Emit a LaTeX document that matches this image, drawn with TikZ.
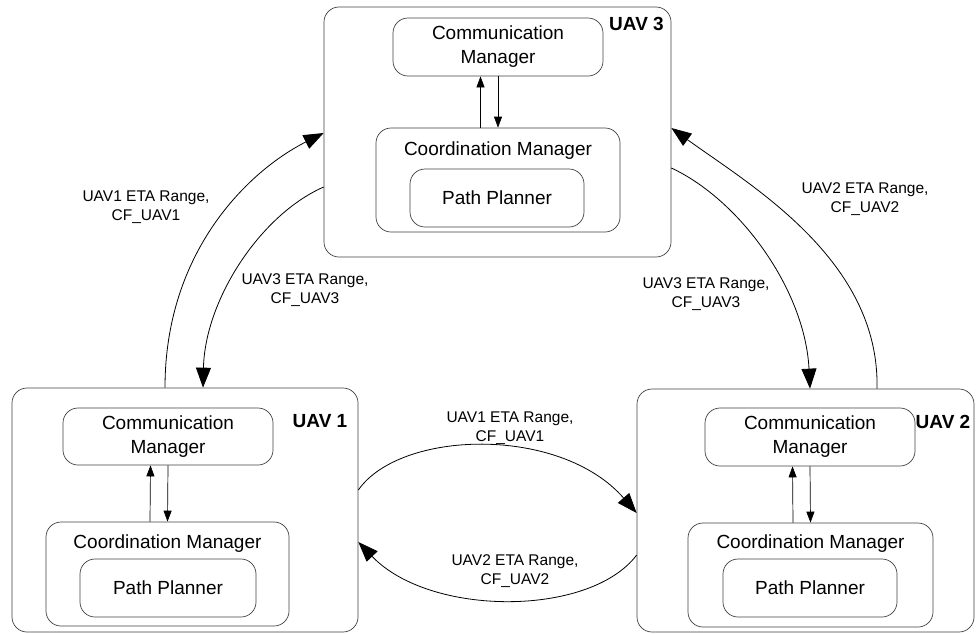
\documentclass[tikz,border=0pt]{standalone}
\usepackage{fontspec}
\setmainfont{Liberation Sans}
\usetikzlibrary{arrows.meta,calc}
\tikzset{
  outerbox/.style={draw=black!75, line width=0.7pt, rounded corners=15pt, inner sep=0pt},
  innerbox/.style={draw=black!75, line width=0.7pt, rounded corners=15pt, inner sep=0pt, align=center, font=\fontsize{19}{24}\selectfont},
  boxtext/.style={inner sep=0pt, font=\fontsize{19}{24}\selectfont},
  lbl/.style={font=\fontsize{15.5}{19.5}\selectfont, align=center, inner sep=0pt},
  uavlbl/.style={font=\fontsize{19}{22}\selectfont\bfseries, inner sep=0pt, anchor=base},
  link/.style={line width=0.8pt, -{Triangle[length=20pt,width=15pt]}},
  intlink/.style={line width=0.7pt, -{Triangle[length=11pt,width=8pt]}}
}
\begin{document}
\begin{tikzpicture}[x=1pt,y=-1pt]
\useasboundingbox (0,0) rectangle (976,633);

% UAV 3
\node[outerbox, minimum width=347pt, minimum height=250pt] (u3) at (497.5,132) {};
\node[uavlbl] (l3) at (636.5,30) {UAV 3};
\node[innerbox, minimum width=210pt, minimum height=58pt] (cm3) at (498,47) {Communication\\Manager};
\node[innerbox, minimum width=244pt, minimum height=104pt] (co3) at (498,180) {};
\node[boxtext, anchor=base] (co3t) at (498,155) {Coordination Manager};
\node[innerbox, minimum width=174pt, minimum height=58pt] (pp3) at (497,198) {Path Planner};

% UAV 1
\node[outerbox, minimum width=346pt, minimum height=244pt] (u1) at (185,510) {};
\node[uavlbl] (l1) at (320,427) {UAV 1};
\node[innerbox, minimum width=210pt, minimum height=57pt] (cm1) at (168,436.5) {Communication\\Manager};
\node[innerbox, minimum width=243pt, minimum height=104pt] (co1) at (167.5,574) {};
\node[boxtext, anchor=base] (co1t) at (167.5,548) {Coordination Manager};
\node[innerbox, minimum width=176pt, minimum height=58pt] (pp1) at (168,588) {Path Planner};

% UAV 2
\node[outerbox, minimum width=337pt, minimum height=243pt] (u2) at (805.5,510.5) {};
\node[uavlbl] (l2) at (943,428) {UAV 2};
\node[innerbox, minimum width=210pt, minimum height=58pt] (cm2) at (810,437) {Communication\\Manager};
\node[innerbox, minimum width=245pt, minimum height=104pt] (co2) at (810.5,575) {};
\node[boxtext, anchor=base] (co2t) at (810.5,548) {Coordination Manager};
\node[innerbox, minimum width=174pt, minimum height=58pt] (pp2) at (810,588) {Path Planner};

% internal links
\foreach \c/\k in {cm3/co3, cm1/co1, cm2/co2}{
  \draw[intlink] ([xshift=-17.5pt]\k.north) -- ([xshift=-17.5pt]\c.south);
  \draw[intlink] (\c.south) -- (\k.north);
}

% inter-UAV links
\draw[link] (u1.east |- 0,490) .. controls (400,430) and (560,425) .. (u2.west |- 0,513);
\draw[link] (u2.west |- 0,555) .. controls (590,617) and (430,617) .. (u1.east |- 0,542);
\draw[link] (u1.north -| 165,0) .. controls (165,250) and (250,170) .. (u3.west |- 0,133);
\draw[link] (u3.west |- 0,187) .. controls (260,215) and (205,300) .. (u1.north -| 203,0);
\draw[link] (u3.east |- 0,168) .. controls (740,200) and (805,290) .. (u2.north -| 810,0);
\draw[link] (u2.north -| 877,0) .. controls (880,260) and (750,185) .. (u3.east |- 0,128);

% labels
\node[lbl] (la) at (510,428) {UAV1 ETA Range,\\CF\_UAV1};
\node[lbl] (lb) at (515,571) {UAV2 ETA Range,\\CF\_UAV2};
\node[lbl] (lc) at (146,207) {UAV1 ETA Range,\\CF\_UAV1};
\node[lbl] (ld) at (305,290) {UAV3 ETA Range,\\CF\_UAV3};
\node[lbl] (le) at (706,294) {UAV3 ETA Range,\\CF\_UAV3};
\node[lbl] (lf) at (865,199) {UAV2 ETA Range,\\CF\_UAV2};
\end{tikzpicture}
\end{document}
